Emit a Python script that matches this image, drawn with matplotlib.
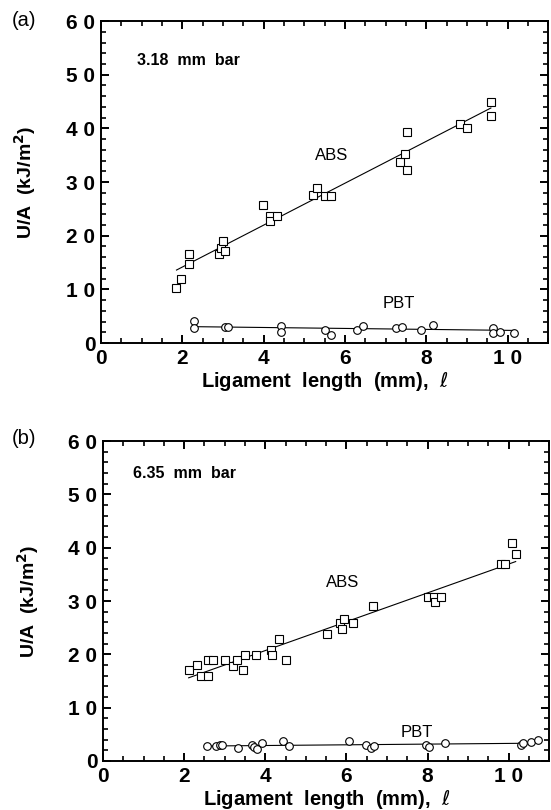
#!/usr/bin/env python3
# -*- coding: utf-8 -*-
"""Fracture energy U/A vs ligament length for ABS and PBT, two bar thicknesses."""

import matplotlib
matplotlib.use("Agg")
import matplotlib.pyplot as plt
from matplotlib.ticker import MultipleLocator, FixedLocator, FixedFormatter

# ---------------- Plot style ----------------
plt.rcParams.update({
    "font.family": ["Liberation Sans", "DejaVu Sans"],
    "mathtext.fontset": "dejavusans",
    "axes.linewidth": 1.4,
    "xtick.direction": "in",
    "ytick.direction": "in",
    "xtick.top": True,
    "ytick.right": True,
})

# ---------------- Data ----------------
# (a) 3.18 mm bar
abs_a_x = [1.85, 1.97, 2.16, 2.16, 2.90, 2.96, 3.00, 3.06, 3.98, 4.16, 4.16, 4.34,
           5.21, 5.32, 5.52, 5.66, 7.36, 7.47, 7.52, 7.53, 8.83, 9.00, 9.59, 9.59]
abs_a_y = [10.3, 11.9, 14.7, 16.6, 16.6, 17.8, 19.0, 17.2, 25.8, 23.7, 22.7, 23.6,
           27.5, 28.8, 27.4, 27.4, 33.8, 35.3, 39.4, 32.3, 40.9, 40.1, 44.9, 42.4]
pbt_a_x = [2.29, 2.29, 3.06, 3.12, 4.42, 4.42, 5.52, 5.65, 6.29, 6.44, 7.26, 7.40,
           7.87, 8.17, 9.65, 9.65, 9.82, 10.16]
pbt_a_y = [4.06, 2.86, 2.98, 2.92, 3.10, 1.97, 2.48, 1.50, 2.48, 3.10, 2.80, 3.05,
           2.48, 3.37, 2.86, 1.84, 2.03, 1.84]
abs_a_fit_x = [1.86, 9.59]
abs_a_fit_y = [13.6, 43.8]
pbt_a_fit_x = [2.29, 10.17]
pbt_a_fit_y = [3.05, 2.35]

# (b) 6.35 mm bar
abs_b_x = [2.11, 2.31, 2.42, 2.58, 2.58, 2.71, 3.01, 3.20, 3.31, 3.45, 3.50, 3.78,
           4.13, 4.17, 4.33, 4.51, 5.51, 5.84, 5.90, 5.95, 6.15, 6.65, 8.00, 8.15,
           8.18, 8.33, 9.81, 9.91, 10.08, 10.17]
abs_b_y = [17.0, 18.0, 16.0, 16.0, 19.0, 19.0, 19.0, 17.9, 19.0, 17.0, 19.9, 19.9,
           20.9, 19.9, 22.9, 19.0, 23.9, 25.8, 24.8, 26.7, 25.8, 29.0, 30.8, 30.8,
           29.8, 30.8, 36.9, 36.9, 40.9, 38.9]
pbt_b_x = [2.56, 2.78, 2.88, 2.94, 3.33, 3.66, 3.71, 3.79, 3.92, 4.44, 4.59, 6.06,
           6.48, 6.61, 6.67, 7.96, 8.03, 8.44, 10.30, 10.35, 10.55, 10.73]
pbt_b_y = [2.81, 2.81, 2.94, 3.00, 2.36, 2.94, 2.62, 2.23, 3.32, 3.70, 2.81, 3.70,
           2.94, 2.42, 2.74, 2.94, 2.62, 3.38, 3.00, 3.38, 3.64, 3.96]
abs_b_fit_x = [2.11, 10.17]
abs_b_fit_y = [15.6, 37.4]
pbt_b_fit_x = [2.56, 10.35]
pbt_b_fit_y = [2.81, 3.32]

y_ticks = [0, 10, 20, 30, 40, 50, 60]
y_ticklabels = ["0", "1 0", "2 0", "3 0", "4 0", "5 0", "6 0"]
x_ticks = [0, 2, 4, 6, 8, 10]
x_ticklabels = ["0", "2", "4", "6", "8", "1 0"]

panels = [
    dict(tag="(a)", bar="3.18  mm  bar",
         abs_x=abs_a_x, abs_y=abs_a_y, pbt_x=pbt_a_x, pbt_y=pbt_a_y,
         abs_fx=abs_a_fit_x, abs_fy=abs_a_fit_y, pbt_fx=pbt_a_fit_x, pbt_fy=pbt_a_fit_y,
         abs_lbl=(5.67, 35.0), pbt_lbl=(7.33, 7.4), bar_pos=(0.9, 52.7),
         rect=[0.183, 0.5765, 0.812, 0.3975], tag_y=0.975),
    dict(tag="(b)", bar="6.35  mm  bar",
         abs_x=abs_b_x, abs_y=abs_b_y, pbt_x=pbt_b_x, pbt_y=pbt_b_y,
         abs_fx=abs_b_fit_x, abs_fy=abs_b_fit_y, pbt_fx=pbt_b_fit_x, pbt_fy=pbt_b_fit_y,
         abs_lbl=(5.91, 33.4), pbt_lbl=(7.73, 5.4), bar_pos=(0.73, 53.9),
         rect=[0.187, 0.0605, 0.81, 0.395], tag_y=0.459),
]

fig = plt.figure(figsize=(5.51, 8.10), dpi=100)

for p in panels:
    ax = fig.add_axes(p["rect"])
    ax.plot(p["abs_fx"], p["abs_fy"], color="black", lw=0.8)
    ax.plot(p["pbt_fx"], p["pbt_fy"], color="black", lw=0.8)
    ax.plot(p["abs_x"], p["abs_y"], ls="none", marker="s", ms=5.5,
            mfc="white", mec="black", mew=0.8)
    ax.plot(p["pbt_x"], p["pbt_y"], ls="none", marker="o", ms=5.5,
            mfc="white", mec="black", mew=0.8)

    ax.set_xlim(0, 11)
    ax.set_ylim(0, 60)
    ax.xaxis.set_major_locator(FixedLocator(x_ticks))
    ax.xaxis.set_major_formatter(FixedFormatter(x_ticklabels))
    ax.yaxis.set_major_locator(FixedLocator(y_ticks))
    ax.yaxis.set_major_formatter(FixedFormatter(y_ticklabels))
    ax.xaxis.set_minor_locator(MultipleLocator(0.5))
    ax.yaxis.set_minor_locator(MultipleLocator(2))
    ax.tick_params(which="major", length=6, width=1.4, labelsize=15, pad=4)
    ax.tick_params(which="minor", length=3.5, width=1.2)
    for lab in ax.get_xticklabels() + ax.get_yticklabels():
        lab.set_fontweight("bold")

    ax.set_xlabel("Ligament  length  (mm),  $\\mathit{\\ell}$", fontsize=14.5,
                  fontweight="bold", labelpad=2)
    ax.set_ylabel("U/A  (kJ/m$^\\mathbf{2}$)", fontsize=14, fontweight="bold",
                  labelpad=20)

    ax.text(*p["bar_pos"], p["bar"], fontsize=11.5, fontweight="bold",
            ha="left", va="center")
    ax.text(*p["abs_lbl"], "ABS", fontsize=12, ha="center", va="center")
    ax.text(*p["pbt_lbl"], "PBT", fontsize=12, ha="center", va="center")
    fig.text(0.022, p["tag_y"], p["tag"], fontsize=14.5, ha="left", va="center")

fig.savefig("out.png", dpi=100)
plt.close(fig)
